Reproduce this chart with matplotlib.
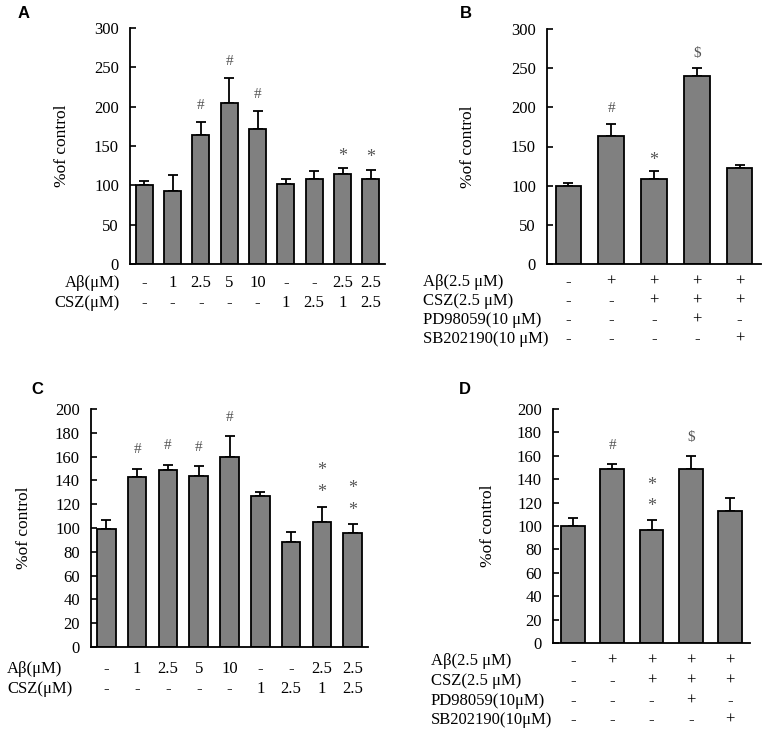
import numpy as np
import matplotlib
matplotlib.use("Agg")
import matplotlib.pyplot as plt
from matplotlib import transforms

plt.rcParams['font.family'] = ['Liberation Serif', 'DejaVu Serif']

# ---- data ----------------------------------------------------------------
a_vals = [100, 93, 164, 205, 172, 102, 108, 114, 108]
a_err = [5, 20, 16, 32, 22, 6, 10, 8, 12]
a_marks = ['', '', '#', '#', '#', '', '', '*', '*']
a_rows = ['Aβ(μM)', 'CSZ(μM)']
a_table = [['-', '1', '2.5', '5', '10', '-', '-', '2.5', '2.5'],
           ['-', '-', '-', '-', '-', '1', '2.5', '1', '2.5']]

b_vals = [99, 163, 109, 240, 123]
b_err = [4, 16, 10, 10, 4]
b_marks = ['', '#', '*', '$', '']
b_rows = ['Aβ(2.5 μM)', 'CSZ(2.5 μM)', 'PD98059(10 μM)', 'SB202190(10 μM)']
b_table = [['-', '+', '+', '+', '+'],
           ['-', '-', '+', '+', '+'],
           ['-', '-', '-', '+', '-'],
           ['-', '-', '-', '-', '+']]

c_vals = [99, 143, 149, 144, 160, 127, 88, 105, 96]
c_err = [8, 7, 4, 8, 17, 3, 9, 13, 7]
c_marks = ['', '#', '#', '#', '#', '', '', '**', '**']
c_rows = ['Aβ(μM)', 'CSZ(μM)']
c_table = a_table

d_vals = [100, 149, 97, 149, 113]
d_err = [7, 4, 8, 11, 11]
d_marks = ['', '#', '**', '$', '']
d_rows = ['Aβ(2.5 μM)', 'CSZ(2.5 μM)', 'PD98059(10μM)', 'SB202190(10μM)']
d_table = b_table

W, H = 768, 735
fig = plt.figure(figsize=(W / 100, H / 100), dpi=100)


def px_axes(l, r, t, b):
    return fig.add_axes([l / W, 1 - b / H, (r - l) / W, (b - t) / H])


def panel(box, vals, err, marks, ymax, step, mark_off, star_gap, rows, table,
          row_y, label_x, label_ha, letter, letter_xy, ylab_x):
    ax = px_axes(*box)
    x = np.arange(len(vals))
    ax.bar(x, vals, width=0.6, color='#808080', edgecolor='black', linewidth=1.3, zorder=2)
    ax.errorbar(x, vals, yerr=[np.zeros(len(err)), err], fmt='none', ecolor='black',
                elinewidth=1.3, capsize=3.6, capthick=1.3, zorder=1)
    for xi, v, e, m in zip(x, vals, err, marks):
        for k, ch in enumerate(m):
            # the serif asterisk sits high in its box, so nudge it down a little
            if ch == '*':
                fs, dy = 13, -ymax * 0.02
            else:
                fs, dy = 11, 0
            ax.text(xi, v + e + mark_off + k * star_gap + dy, ch, ha='center', va='center',
                    fontsize=fs, color='#555555')
    ax.set_xlim(-0.5, len(vals) - 0.5)
    ax.set_ylim(0, ymax)
    ax.set_yticks(np.arange(0, ymax + 1, step))
    ax.set_xticks([])
    ax.tick_params(axis='y', direction='in', length=4, width=1.2, labelsize=12, pad=8)
    for s in ['top', 'right']:
        ax.spines[s].set_visible(False)
    for s in ['left', 'bottom']:
        ax.spines[s].set_linewidth(1.3)
    trans = transforms.blended_transform_factory(ax.transData, fig.transFigure)
    for ry, rl, rv in zip(row_y, rows, table):
        fig.text(label_x / W, 1 - ry / H, rl, ha=label_ha, va='center', fontsize=12)
        for xi, t in zip(x, rv):
            ax.text(xi, 1 - ry / H, t, transform=trans, ha='center', va='center', fontsize=12)
    fig.text(letter_xy[0] / W, 1 - letter_xy[1] / H, letter, family='Liberation Sans',
             fontweight='bold', fontsize=12, ha='left', va='center')
    fig.text(ylab_x / W, 1 - (box[2] + box[3]) / 2 / H, '%of control', rotation=90,
             ha='center', va='center', fontsize=12.5)
    return ax


panel((130, 385, 28, 264), a_vals, a_err, a_marks, 300, 50, 21, 0, a_rows, a_table,
      [283, 303], 120, 'right', 'A', (18, 14), 62)
panel((547, 761, 29, 264), b_vals, b_err, b_marks, 300, 50, 19, 0, b_rows, b_table,
      [282, 301, 320, 339], 423, 'left', 'B', (460, 14), 468)
panel((91, 368, 409, 647), c_vals, c_err, c_marks, 200, 20, 16, 18, c_rows, c_table,
      [669, 689], 7, 'left', 'C', (31, 389), 24)
panel((553, 750, 409, 643), d_vals, d_err, d_marks, 200, 20, 16, 18, d_rows, d_table,
      [661, 681, 701, 720], 431, 'left', 'D', (459, 389), 488)

fig.savefig('out.png', dpi=100)
